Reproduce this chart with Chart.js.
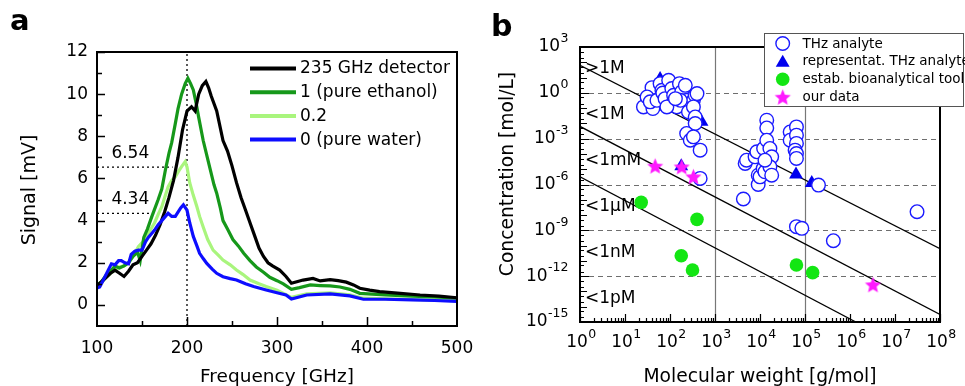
<!DOCTYPE html>
<html><head><meta charset="utf-8">
<script src="https://cdn.jsdelivr.net/npm/chart.js@4.4.0/dist/chart.umd.min.js"></script>
<style>
html,body{margin:0;padding:0;background:#fff;}
#wrap{position:relative;width:965px;height:386px;overflow:hidden;background:#fff;}
canvas{position:absolute;top:0;}
#ca{left:0;} #cb{left:480px;}
</style></head><body>
<div id="wrap"><canvas id="ca" width="480" height="386"></canvas><canvas id="cb" width="485" height="386"></canvas></div>
<script>
// ---------- Panel a data ----------
const freqBlack = [100,105,110,115,120,125,130,135,140,145,150,155,160,165,170,175,180,185,190,195,200,205,209,213,217,221,224,227,233,240,245,250,255,260,265,270,275,280,285,290,295,303,310,316,322,329,340,348,359,368,377,385,392,403,414,437,459,480,500];
const sigBlack  = [0.9,1.1,1.3,1.5,1.65,1.5,1.35,1.6,1.9,2.0,2.3,2.6,2.9,3.3,3.8,4.4,5.1,5.9,7.0,8.3,9.2,9.4,9.2,10.0,10.4,10.6,10.3,9.9,9.2,7.8,7.3,6.6,5.8,5.1,4.5,3.9,3.3,2.7,2.3,2.0,1.85,1.65,1.35,1.03,1.1,1.18,1.26,1.14,1.2,1.15,1.08,0.95,0.79,0.7,0.63,0.55,0.47,0.42,0.34];
const freqEth = [100,105,110,115,120,125,130,135,140,145,148,152,156,161,168,172,176,180,183,187,190,194,198,201,204,207,210,213,218,222,226,230,233,237,240,245,251,257,263,270,277,285,292,300,307,316,325,337,348,359,370,381,392,420,450,475,500];
const sigEth  = [0.95,1.1,1.4,1.6,1.85,1.75,1.85,2.0,2.3,2.5,2.1,3.2,3.6,4.2,5.0,5.5,6.4,7.2,7.7,8.6,9.3,10.0,10.5,10.75,10.5,10.2,9.6,8.9,7.8,7.1,6.4,5.7,5.3,4.6,4.0,3.6,3.1,2.8,2.45,2.1,1.8,1.55,1.31,1.15,1.0,0.74,0.82,0.95,0.92,0.9,0.85,0.74,0.55,0.48,0.42,0.38,0.32];
const freqMix = [100,105,110,115,120,125,130,135,140,146,151,157,164,168,172,176,179,183,187,190,194,198,200,203,207,211,214,218,223,229,235,240,248,255,262,270,280,288,300,316,333,359,381,396,430,460,500];
const sigMix  = [0.9,1.05,1.3,1.5,1.65,1.8,1.85,2.0,2.3,2.76,3.0,3.4,3.9,4.3,4.66,5.2,5.6,5.9,6.08,6.3,6.56,6.8,6.55,5.8,5.2,4.66,4.2,3.7,3.1,2.6,2.35,2.13,1.9,1.66,1.45,1.18,1.0,0.87,0.7,0.36,0.52,0.57,0.48,0.32,0.28,0.25,0.2];
const freqWater = [100,103,106,109,113,116,120,124,127,131,135,138,142,146,150,154,157,161,164,168,172,176,179,183,187,190,193,196,200,203,207,211,214,218,222,228,233,240,248,255,265,274,288,300,310,316,333,359,381,396,420,450,475,500];
const sigWater  = [0.8,0.85,1.1,1.35,1.7,1.95,1.9,2.1,2.1,2.0,1.95,2.4,2.55,2.6,2.6,3.0,3.2,3.4,3.55,3.8,4.0,4.2,4.35,4.2,4.2,4.4,4.6,4.75,4.5,3.9,3.25,2.8,2.45,2.2,1.97,1.7,1.5,1.34,1.25,1.18,1.0,0.87,0.71,0.58,0.47,0.28,0.47,0.52,0.43,0.27,0.27,0.24,0.21,0.17];
const seriesNamesA = ['235 GHz detector','1 (pure ethanol)','0.2','0 (pure water)'];
const xTicksA = [100,200,300,400,500];
const yTicksA = [0,2,4,6,8,10,12];
const markLevels = [6.54, 4.34];
const markEnds = [184, 166];
const markFreq = 200;

// ---------- Panel b data (log10 values) ----------
const thzLogM = [1.41,1.60,1.62,1.49,1.56,1.71,1.78,1.82,1.84,1.89,1.97,2.04,2.08,2.08,2.15,2.21,2.26,2.34,2.37,2.41,2.52,2.56,2.60,2.52,2.56,2.56,2.37,2.45,2.52,2.67,2.67,1.93,2.23,2.12,
  3.63,3.67,3.70,3.89,3.93,3.96,3.96,4.00,4.07,4.11,4.08,4.15,4.15,4.15,4.22,4.26,4.22,4.26,4.11,4.67,4.67,4.81,4.81,4.81,4.78,4.81,4.81,5.30,4.81,4.93,5.63,7.49];
const thzLogC = [-0.92,0.34,-1.03,-0.27,-0.59,-0.49,0.60,0.17,-0.01,-0.38,0.82,0.28,-0.59,-0.16,-0.92,0.60,0.06,0.49,-0.49,-1.25,-0.49,-0.16,-0.05,-0.92,-1.58,-2.01,-2.66,-3.10,-2.88,-3.75,-5.60,-0.92,-0.49,-0.38,
  -6.95,-4.62,-4.41,-4.19,-3.86,-5.39,-6.00,-5.50,-4.95,-5.17,-3.64,-1.79,-2.30,-3.10,-3.64,-4.19,-4.84,-5.39,-4.41,-2.56,-3.10,-2.23,-2.77,-3.31,-3.75,-3.97,-4.29,-6.04,-8.76,-8.87,-9.68,-7.78];
const repLogM = [1.78,1.78,2.70,2.25,4.80,5.15];
const repLogC = [0.90,-0.90,-1.90,-4.80,-5.35,-5.90];
const toolLogM = [1.36,2.60,2.25,2.50,4.81,5.17];
const toolLogC = [-7.17,-8.28,-10.66,-11.60,-11.27,-11.77];
const oursLogM = [1.67,2.26,2.52,6.51];
const oursLogC = [-4.80,-4.85,-5.50,-12.57];
// limit lines: [logM, logC] endpoints
const limitLines = [[[0,1.8],[8,-10.2]], [[0,-2.2],[8,-14.5]], [[0,-5.5],[6.13,-15]]];
const bandLabels = ['>1M','<1M','<1mM','<1µM','<1nM','<1pM'];
const bandLogC = [1.5,-1.5,-4.5,-7.5,-10.5,-13.5];
const xTicksB = [0,1,2,3,4,5,6,7,8];
const yTicksB = [-15,-12,-9,-6,-3,0,3];
const dashedLogC = [0,-3,-6,-9,-12];
const solidLogM = [3,5];
const legendNamesB = ['THz analyte','representat. THz analyte','estab. bioanalytical tool','our data'];

const FONT = 'DejaVu Sans';
Chart.defaults.font.family = FONT;
Chart.defaults.color = '#000';

const COL = {black:'#000000', eth:'#16981a', mix:'#a9f57d', water:'#0d0dff',
  circ:'#1a1aff', tri:'#0000ee', tool:'#13e613', star:'#ff19ff'};

const pts = (xs, ys) => xs.map((x,i)=>({x, y: ys[i]}));
const ptsLog = (ms, cs) => ms.map((m,i)=>({x: Math.pow(10,m), y: Math.pow(10,cs[i])}));
const noPad = s => { s.paddingLeft=0; s.paddingRight=0; s.paddingTop=0; s.paddingBottom=0; };

// ---------- Panel a ----------
const lineDs = (label, data, color, w, dash) => ({label, data, showLine:true, borderColor:color, backgroundColor:color,
  borderWidth:w, pointRadius:0, borderDash: dash||[], tension:0, fill:false});

const plugA = {
  id:'plugA',
  afterDraw(chart){
    const {ctx, chartArea:a, scales:{x,y}} = chart;
    ctx.save();
    ctx.strokeStyle='#000'; ctx.lineWidth=1.5;
    ctx.beginPath();
    for(let v=0; v<=12; v++){ const py=Math.round(y.getPixelForValue(v))+0.5; const L = v%2===0?8:5; ctx.moveTo(a.left,py); ctx.lineTo(a.left+L,py);} 
    for(let f=150; f<=450; f+=50){ const px=Math.round(x.getPixelForValue(f))+0.5; const L = f%100===0?9:5; ctx.moveTo(px,a.bottom); ctx.lineTo(px,a.bottom-L);} 
    ctx.stroke();
    ctx.lineWidth=2; ctx.strokeRect(a.left, a.top, a.right-a.left, a.bottom-a.top);
    ctx.fillStyle='#000'; ctx.font='17px '+FONT; ctx.textAlign='left'; ctx.textBaseline='middle';
    markLevels.forEach(v=>{ ctx.fillText(v.toFixed(2), x.getPixelForValue(116), y.getPixelForValue(v)-14); });
    const cols=[COL.black,COL.eth,COL.mix,COL.water];
    seriesNamesA.forEach((n,i)=>{ const yy=68.5+i*23.7; ctx.strokeStyle=cols[i]; ctx.lineWidth=4; ctx.beginPath(); ctx.moveTo(250,yy); ctx.lineTo(296,yy); ctx.stroke();
      ctx.fillStyle='#000'; ctx.fillText(n, 300, yy+0.5); });
    ctx.font='18.5px '+FONT; ctx.textAlign='center'; ctx.textBaseline='alphabetic';
    ctx.fillText('Frequency [GHz]', (a.left+a.right)/2, 382);
    ctx.save(); ctx.translate(30, (a.top+a.bottom)/2+1); ctx.rotate(-Math.PI/2); ctx.textBaseline='middle'; ctx.font='19px '+FONT; ctx.fillText('Signal [mV]',0,0); ctx.restore();
    ctx.font='bold 29px '+FONT; ctx.textAlign='left'; ctx.fillText('a', 10, 30);
    ctx.restore();
  }
};

new Chart(document.getElementById('ca'), {
  type:'scatter',
  data:{datasets:[
    lineDs(seriesNamesA[3], pts(freqWater,sigWater), COL.water, 3.2),
    lineDs(seriesNamesA[0], pts(freqBlack,sigBlack), COL.black, 3.2),
    lineDs(seriesNamesA[1], pts(freqEth,sigEth), COL.eth, 3.2),
    lineDs(seriesNamesA[2], pts(freqMix,sigMix), COL.mix, 3.2),
    lineDs('f', [{x:markFreq,y:-1},{x:markFreq,y:12}], '#000', 1.3, [2,3]),
    lineDs('m1', [{x:100,y:markLevels[0]},{x:markEnds[0],y:markLevels[0]}], '#000', 1.3, [2,3]),
    lineDs('m2', [{x:100,y:markLevels[1]},{x:markEnds[1],y:markLevels[1]}], '#000', 1.3, [2,3])
  ]},
  options:{
    responsive:false, animation:false, devicePixelRatio:1,
    layout:{padding:{left:0,top:52,right:23,bottom:0}},
    plugins:{legend:{display:false}, tooltip:{enabled:false}},
    scales:{
      x:{type:'linear', min:100, max:500, grid:{display:false, drawTicks:false}, border:{display:false},
        afterBuildTicks:s=>{s.ticks = xTicksA.map(v=>({value:v}));},
        afterFit:s=>{s.height=60; noPad(s);},
        ticks:{font:{size:17}, color:'#000', padding:12, maxRotation:0, autoSkip:false}},
      y:{type:'linear', min:-1, max:12, grid:{display:false, drawTicks:false}, border:{display:false},
        afterBuildTicks:s=>{s.ticks = yTicksA.map(v=>({value:v}));},
        afterFit:s=>{s.width=97; noPad(s);},
        ticks:{font:{size:17}, color:'#000', padding:9}}
    }
  },
  plugins:[plugA]
});

// ---------- Panel b ----------
function makeStar(r, color){
  const s=Math.ceil(2*r+2); const c=document.createElement('canvas'); c.width=s; c.height=s;
  const g=c.getContext('2d'); g.fillStyle=color; g.beginPath();
  for(let i=0;i<10;i++){ const an=-Math.PI/2+i*Math.PI/5; const rr=(i%2)?r*0.45:r; g.lineTo(s/2+rr*Math.cos(an), s/2+0.6+rr*Math.sin(an)); }
  g.closePath(); g.fill(); return c;
}
const starImg = makeStar(8.5, COL.star);

function powLabel(ctx, e, x, y, align){
  const base='10', ex=String(e);
  ctx.font='17px '+FONT; const wb=ctx.measureText(base).width;
  ctx.font='12.5px '+FONT; const we=ctx.measureText(ex).width;
  let x0 = align==='right' ? x-wb-we : x-(wb+we)/2;
  ctx.textAlign='left'; ctx.textBaseline='middle';
  ctx.font='17px '+FONT; ctx.fillText(base, x0, y);
  ctx.font='12.5px '+FONT; ctx.fillText(ex, x0+wb+0.5, y-8);
}

const plugB = {
  id:'plugB',
  beforeDatasetsDraw(chart){
    const {ctx, chartArea:a, scales:{x,y}} = chart;
    ctx.save();
    ctx.strokeStyle='#6e6e6e'; ctx.lineWidth=1; ctx.setLineDash([5,4]);
    ctx.beginPath();
    dashedLogC.forEach(e=>{ const py=Math.round(y.getPixelForValue(Math.pow(10,e)))+0.5; ctx.moveTo(a.left,py); ctx.lineTo(a.right,py); });
    ctx.stroke();
    ctx.setLineDash([]); ctx.strokeStyle='#777'; ctx.lineWidth=1.2; ctx.beginPath();
    solidLogM.forEach(e=>{ const px=Math.round(x.getPixelForValue(Math.pow(10,e)))+0.5; ctx.moveTo(px,a.top); ctx.lineTo(px,a.bottom); });
    ctx.stroke();
    ctx.restore();
  },
  afterDraw(chart){
    const {ctx, chartArea:a, scales:{x,y}} = chart;
    ctx.save();
    ctx.strokeStyle='#000'; ctx.lineWidth=1.2; ctx.beginPath();
    for(let e=-15; e<=3; e++){
      const py=Math.round(y.getPixelForValue(Math.pow(10,e)))+0.5; const L=(e%3===0)?9:7; ctx.moveTo(a.left,py); ctx.lineTo(a.left+L,py);
      if(e<3){ [2,5].forEach(m=>{ const q=Math.round(y.getPixelForValue(m*Math.pow(10,e)))+0.5; ctx.moveTo(a.left,q); ctx.lineTo(a.left+4,q); }); }
    }
    for(let e=0; e<=8; e++){
      const px=Math.round(x.getPixelForValue(Math.pow(10,e)))+0.5; ctx.moveTo(px,a.bottom); ctx.lineTo(px,a.bottom-8);
      if(e<8){ for(let m=2;m<=9;m++){ const q=Math.round(x.getPixelForValue(m*Math.pow(10,e)))+0.5; ctx.moveTo(q,a.bottom); ctx.lineTo(q,a.bottom-4);} }
    }
    ctx.stroke();
    ctx.lineWidth=2; ctx.strokeRect(a.left, a.top, a.right-a.left, a.bottom-a.top);
    ctx.fillStyle='#000';
    y.ticks.forEach(t=>powLabel(ctx, Math.round(Math.log10(t.value)), a.left-12, y.getPixelForValue(t.value), 'right'));
    x.ticks.forEach(t=>powLabel(ctx, Math.round(Math.log10(t.value)), x.getPixelForValue(t.value)+1, a.bottom+20.5, 'center'));
    ctx.font='17px '+FONT; ctx.textAlign='left'; ctx.textBaseline='middle';
    bandLabels.forEach((t,i)=>{ ctx.fillText(t, x.getPixelForValue(1)+5, y.getPixelForValue(Math.pow(10,bandLogC[i]))-1); });
    const L=284, T=33, R=484, B=107;
    ctx.fillStyle='#fff'; ctx.fillRect(L,T,R-L,B-T);
    ctx.strokeStyle='#555'; ctx.lineWidth=1; ctx.strokeRect(L+0.5,T+0.5,R-L-1,B-T-1);
    const sx=302.7, rows=[43.5,61.2,79.2,97.2];
    ctx.beginPath(); ctx.arc(sx,rows[0],6.8,0,2*Math.PI); ctx.fillStyle='#fff'; ctx.fill(); ctx.strokeStyle=COL.circ; ctx.lineWidth=1.4; ctx.stroke();
    ctx.beginPath(); for(let k=0;k<3;k++){ const an=k*2*Math.PI/3; ctx.lineTo(sx+Math.sin(an)*8, rows[1]+1.5-Math.cos(an)*8);} ctx.closePath(); ctx.fillStyle=COL.tri; ctx.fill();
    ctx.beginPath(); ctx.arc(sx,rows[2],6.8,0,2*Math.PI); ctx.fillStyle=COL.tool; ctx.fill();
    ctx.drawImage(starImg, sx-starImg.width/2, rows[3]-starImg.height/2);
    ctx.fillStyle='#000'; ctx.font='13.5px '+FONT; ctx.textAlign='left'; ctx.textBaseline='middle';
    legendNamesB.forEach((n,i)=>ctx.fillText(n, 322.5, rows[i]+0.5));
    ctx.font='18.7px '+FONT; ctx.textAlign='center'; ctx.textBaseline='alphabetic';
    ctx.fillText('Molecular weight [g/mol]', (a.left+a.right)/2, 382);
    ctx.save(); ctx.translate(28, 174); ctx.rotate(-Math.PI/2); ctx.textBaseline='middle'; ctx.fillText('Concentration [mol/L]',0,0); ctx.restore();
    ctx.font='bold 30px '+FONT; ctx.textAlign='left'; ctx.fillText('b', 11, 36);
    ctx.restore();
  }
};

new Chart(document.getElementById('cb'), {
  type:'scatter',
  data:{datasets:[
    {label:legendNamesB[3], data:ptsLog(oursLogM,oursLogC), pointStyle:starImg, pointRadius:8.5},
    {label:legendNamesB[2], data:ptsLog(toolLogM,toolLogC), pointStyle:'circle', pointRadius:6.8, backgroundColor:COL.tool, borderColor:COL.tool, borderWidth:0},
    {label:legendNamesB[0], data:ptsLog(thzLogM,thzLogC), pointStyle:'circle', pointRadius:6.8, backgroundColor:'#fff', borderColor:COL.circ, borderWidth:1.4},
    {label:legendNamesB[1], data:ptsLog(repLogM,repLogC), pointStyle:'triangle', pointRadius:8, backgroundColor:COL.tri, borderColor:COL.tri, borderWidth:0},
    ...limitLines.map((ln,i)=>({label:'limit'+i, data:ln.map(p=>({x:Math.pow(10,p[0]), y:Math.pow(10,p[1])})), showLine:true,
      borderColor:'#000', borderWidth:1.3, pointRadius:0, tension:0}))
  ]},
  options:{
    responsive:false, animation:false, devicePixelRatio:1,
    layout:{padding:{left:0,top:47,right:25,bottom:0}},
    plugins:{legend:{display:false}, tooltip:{enabled:false}},
    scales:{
      x:{type:'logarithmic', min:1, max:1e8, grid:{display:false, drawTicks:false}, border:{display:false},
        afterBuildTicks:s=>{s.ticks = xTicksB.map(e=>({value:Math.pow(10,e)}));},
        afterFit:s=>{s.height=64; noPad(s);},
        ticks:{display:false}},
      y:{type:'logarithmic', min:1e-15, max:1e3, grid:{display:false, drawTicks:false}, border:{display:false},
        afterBuildTicks:s=>{s.ticks = yTicksB.map(e=>({value:Math.pow(10,e)}));},
        afterFit:s=>{s.width=100; noPad(s);},
        ticks:{display:false}}
    }
  },
  plugins:[plugB]
});
</script>
</body></html>
